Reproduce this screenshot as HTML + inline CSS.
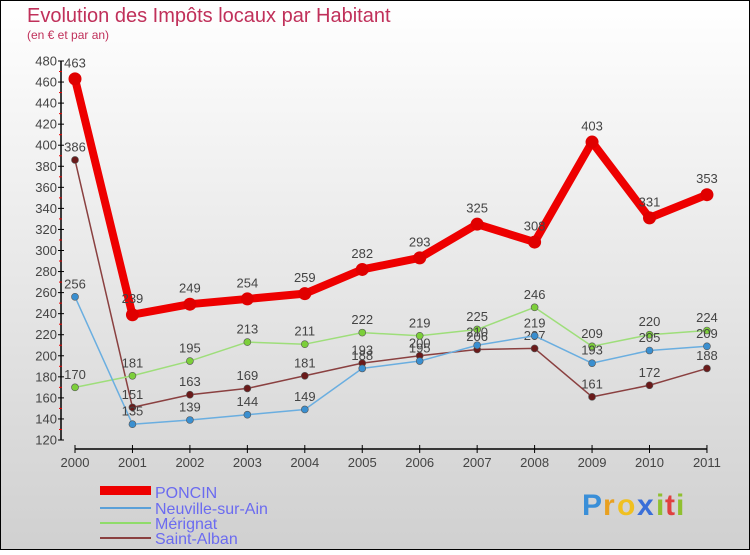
<!DOCTYPE html>
<html><head><meta charset="utf-8"><style>
html,body{margin:0;padding:0}
body{width:750px;height:550px;overflow:hidden;font-family:"Liberation Sans",sans-serif}
</style></head><body>
<svg width="750" height="550" xmlns="http://www.w3.org/2000/svg">
<defs><linearGradient id="bg" x1="0" y1="0" x2="0" y2="1"><stop offset="0" stop-color="#ffffff"/><stop offset="1" stop-color="#d0d0d0"/></linearGradient></defs>
<rect x="0.5" y="0.5" width="749" height="549" fill="url(#bg)" stroke="#000"/>
<text x="27" y="22" font-size="20" fill="#c0305a">Evolution des Impôts locaux par Habitant</text>
<text x="27" y="39" font-size="12" fill="#c0305a">(en € et par an)</text>
<g id="axes"></g><g id="series"></g>
<g>
<rect x="100" y="486" width="51" height="9" fill="#e00"/>
<text x="155" y="498" font-size="16" fill="#6b6bf0">PONCIN</text>
<line x1="100" y1="508" x2="151" y2="508" stroke="#5aa0d8" stroke-width="2"/>
<text x="155" y="514" font-size="16" fill="#6b6bf0">Neuville-sur-Ain</text>
<line x1="100" y1="523" x2="151" y2="523" stroke="#8fdc6a" stroke-width="2"/>
<text x="155" y="529" font-size="16" fill="#6b6bf0">Mérignat</text>
<line x1="100" y1="538" x2="151" y2="538" stroke="#8a4040" stroke-width="2"/>
<text x="155" y="544" font-size="16" fill="#6b6bf0">Saint-Alban</text>
</g>
<g font-size="30" font-weight="bold">
<text x="582" y="515" fill="#3a8fd8">P</text><text x="603" y="515" fill="#e8a020">r</text><text x="617" y="515" fill="#f0c020">o</text><text x="637" y="515" fill="#3a6fd8">x</text><text x="656" y="515" fill="#90c030">i</text><text x="665" y="515" fill="#e04040">t</text><text x="676" y="515" fill="#90c030">i</text>
</g>
</svg>
<script>
const years=["2000","2001","2002","2003","2004","2005","2006","2007","2008","2009","2010","2011"];
const yTicks=[120,140,160,180,200,220,240,260,280,300,320,340,360,380,400,420,440,460,480];
const poncin=[463,239,249,254,259,282,293,325,308,403,331,353];
const neuville=[256,135,139,144,149,188,195,210,219,193,205,209];
const merignat=[170,181,195,213,211,222,219,225,246,209,220,224];
const saintAlban=[386,151,163,169,181,193,200,206,207,161,172,188];
const NS="http://www.w3.org/2000/svg";
function X(i){return 75+i*57.45;}
function Y(v){return 440-(v-120)*1.0528;}
function mk(tag,attrs,parent){const e=document.createElementNS(NS,tag);for(const k in attrs)e.setAttribute(k,attrs[k]);parent.appendChild(e);return e;}
const ax=document.getElementById('axes');
let a=mk('line',{x1:61,y1:Y(480),x2:61,y2:440,stroke:'#000','stroke-width':1.5},ax);


a=mk('line',{x1:X(0),y1:449,x2:X(11),y2:449,stroke:'#000','stroke-width':1.5},ax);


yTicks.forEach(v=>{
 mk('line',{x1:58,y1:Y(v),x2:64,y2:Y(v),stroke:'#000'},ax);
 if(v<480) mk('line',{x1:59,y1:Y(v+10),x2:62,y2:Y(v+10),stroke:'#e00'},ax);
 const t=mk('text',{x:57,y:Y(v)+4.5,'font-size':13,'text-anchor':'end',fill:'#444'},ax);
 t.textContent=v;
 
 
});
years.forEach((y,i)=>{
 mk('line',{x1:X(i),y1:445,x2:X(i),y2:453,stroke:'#000'},ax);
 const t=mk('text',{x:X(i),y:467,'font-size':13,'text-anchor':'middle',fill:'#444'},ax);
 t.textContent=y;
 
 
});
const sg=document.getElementById('series');
function draw(vals,color,dot,w,r,name){
 const g=mk('g',{},sg);
 
 
 mk('polyline',{points:vals.map((v,i)=>X(i)+','+Y(v)).join(' '),fill:'none',stroke:color,'stroke-width':w,'stroke-linejoin':'round'},g);
 vals.forEach((v,i)=>{
  const c=mk('circle',{cx:X(i),cy:Y(v),r:r,fill:dot,stroke:w>3?'none':'#555','stroke-width':0.6},g);
  
  
  const t=mk('text',{x:X(i),y:Y(v)-r-5,'font-size':13,'text-anchor':'middle',fill:'#444'},g);
  t.textContent=v;
  
  
 });
}
draw(saintAlban,'#8a4040','#6a1a1a',1.5,3.5,'saint-alban');
draw(merignat,'#9ede7a','#7ccf3a',1.5,3.5,'merignat');
draw(neuville,'#6aaee0','#3a8fd0',1.5,3.5,'neuville');
draw(poncin,'#ee0000','#e00000',8,6.5,'poncin');
</script>
</body></html>
